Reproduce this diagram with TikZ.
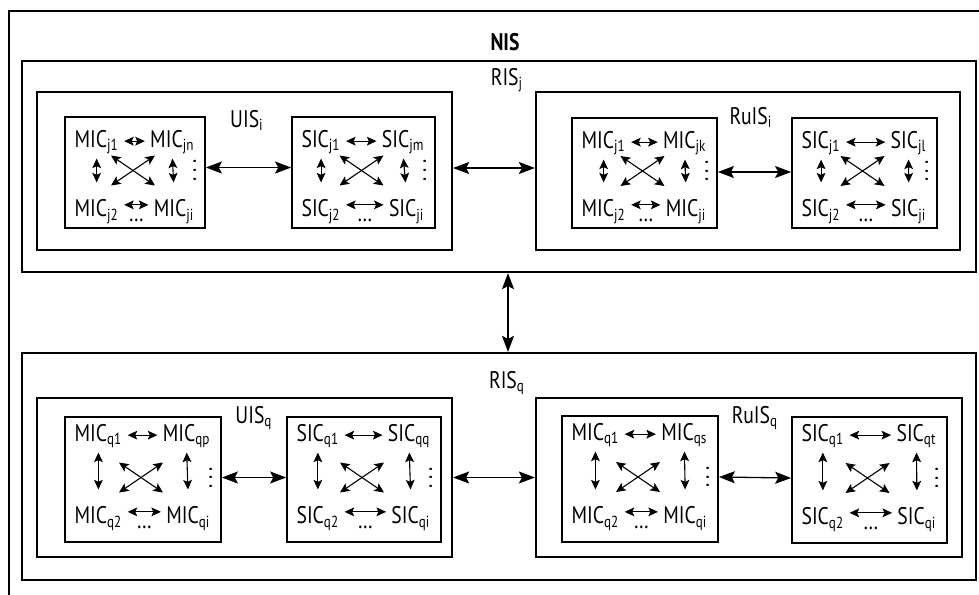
\documentclass[tikz,border=0pt]{standalone}
\usepackage{fontspec}
\setmainfont{PT Sans}[FakeStretch=0.82]
\usetikzlibrary{arrows.meta, calc, fit}

% one inner box: name, two corners, four labels, top and bottom baselines
\newcommand{\icgrid}[9]{%
	\node[icbox, fit={#2 #3}] (#1) {};
	\node[lbl, anchor=base west] (#1-tl) at ($(#1.north west)+(8,#8)$) {#4};
	\node[lbl, anchor=base east] (#1-tr) at ($(#1.north east)+(-9,#8)$) {#5};
	\node[lbl, anchor=base west] (#1-bl) at ($(#1.south west)+(8,-#9)$) {#6};
	\node[lbl, anchor=base east] (#1-br) at ($(#1.south east)+(-9,-#9)$) {#7};
	\node[dotlbl, anchor=base] (#1-hd) at ($(#1-bl.base east)!.5!(#1-br.base west)+(0,5)$) {\ldots};
	\node[dotlbl, rotate=90] (#1-vd) at ($(#1.east)+(-11,-2)$) {.\kern2.2pt.\kern2.2pt.};
	\draw[ilink, shorten <=1.5pt, shorten >=1.5pt] (#1-tl) -- (#1-tr);
	\draw[ilink, shorten <=1.5pt, shorten >=1.5pt] ([yshift=3pt]#1-bl.east) -- ([yshift=3pt]#1-br.west);
	\draw[ilink, shorten <=1.5pt, shorten >=7pt] (#1-tl.south) -- (#1-bl.north);
	\draw[ilink, shorten <=1.5pt, shorten >=7pt] (#1-tr.south) -- (#1-br.north);
	\draw[ilink] ($(#1.center)+(-24,-17)$) -- ($(#1.center)+(20,13)$);
	\draw[ilink] ($(#1.center)+(20,-17)$) -- ($(#1.center)+(-24,13)$);
}

\begin{document}
\begin{tikzpicture}[x=0.5pt, y=-0.5pt, font=\fontsize{12}{14}\selectfont,
	sysbox/.style={draw, line width=1.1pt, inner sep=0pt},
	icbox/.style={draw, line width=0.85pt, inner sep=0pt},
	lbl/.style={inner sep=1pt, text height=9pt, text depth=3pt},
	dotlbl/.style={inner sep=0pt},
	link/.style={{Stealth[length=8pt, width=6pt, inset=1.5pt]}-{Stealth[length=8pt, width=6pt, inset=1.5pt]}, line width=0.65pt},
	ilink/.style={{Stealth[length=4.8pt, width=4.4pt, inset=1pt]}-{Stealth[length=4.8pt, width=4.4pt, inset=1pt]}, line width=0.55pt}]
	\useasboundingbox (0,0) rectangle (979,594);

	% outer frame runs off the page
	\node[sysbox, fit={(9,11) (1000,610)}] (nis) {};
	\node[lbl, anchor=base, font=\fontsize{12}{14}\selectfont\bfseries] (nislbl) at (505,50) {NIS};

	\node[sysbox, fit={(22,61) (976,272)}] (risj) {};
	\node[lbl, anchor=base] (risjlbl) at (507,85) {RIS\textsubscript{j}};
	\node[sysbox, fit={(37,92) (452,250)}] (uisi) {};
	\node[lbl, anchor=base] (uisilbl) at (247,127) {UIS\textsubscript{i}};
	\node[sysbox, fit={(536,92) (960,250)}] (ruisi) {};
	\node[lbl, anchor=base] (ruisilbl) at (751,124) {RuIS\textsubscript{i}};

	\node[sysbox, fit={(22,353) (976,580)}] (risq) {};
	\node[lbl, anchor=base] (risqlbl) at (507,388) {RIS\textsubscript{q}};
	\node[sysbox, fit={(37,398) (452,557)}] (uisq) {};
	\node[lbl, anchor=base] (uisqlbl) at (254,423) {UIS\textsubscript{q}};
	\node[sysbox, fit={(536,398) (962,557)}] (ruisq) {};
	\node[lbl, anchor=base] (ruisqlbl) at (755,423) {RuIS\textsubscript{q}};

	% inner boxes, upper row
	\icgrid{mj}{(65,117)}{(205,228)}{MIC\textsubscript{j1}}{MIC\textsubscript{jn}}{MIC\textsubscript{j2}}{MIC\textsubscript{ji}}{31}{12}
	\icgrid{sj}{(292,117)}{(435,228)}{SIC\textsubscript{j1}}{SIC\textsubscript{jm}}{SIC\textsubscript{j2}}{SIC\textsubscript{ji}}{31}{12}
	\icgrid{mk}{(572,118)}{(717,228)}{MIC\textsubscript{j1}}{MIC\textsubscript{jk}}{MIC\textsubscript{j2}}{MIC\textsubscript{ji}}{31}{12}
	\icgrid{sl}{(792,118)}{(937,228)}{SIC\textsubscript{j1}}{SIC\textsubscript{jl}}{SIC\textsubscript{j2}}{SIC\textsubscript{ji}}{31}{12}

	% inner boxes, lower row
	\icgrid{mp}{(65,417)}{(221,542)}{MIC\textsubscript{q1}}{MIC\textsubscript{qp}}{MIC\textsubscript{q2}}{MIC\textsubscript{qi}}{25}{19}
	\icgrid{sq}{(287,417)}{(441,542)}{SIC\textsubscript{q1}}{SIC\textsubscript{qq}}{SIC\textsubscript{q2}}{SIC\textsubscript{qi}}{25}{19}
	\icgrid{ms}{(562,416)}{(718,542)}{MIC\textsubscript{q1}}{MIC\textsubscript{qs}}{MIC\textsubscript{q2}}{MIC\textsubscript{qi}}{25}{19}
	\icgrid{st}{(792,417)}{(947,543)}{SIC\textsubscript{q1}}{SIC\textsubscript{qt}}{SIC\textsubscript{q2}}{SIC\textsubscript{qi}}{25}{19}

	% links
	\draw[link] ([yshift=2.5pt]mj.east) -- ([yshift=2.5pt]sj.west);
	\draw[link] ([yshift=0.5pt]mk.east) -- ([yshift=0.5pt]sl.west);
	\draw[link] ([yshift=1.5pt]uisi.east) -- ([yshift=1.5pt]ruisi.west);
	\draw[link] ([xshift=4.5pt]risj.south) -- ([xshift=4.5pt]risq.north);
	\draw[link] ([yshift=1pt]mp.east) -- ([yshift=1pt]sq.west);
	\draw[link] ([yshift=1pt]ms.east) -- ([yshift=1pt]st.west);
	\draw[link] (uisq.east) -- (ruisq.west);
\end{tikzpicture}
\end{document}
